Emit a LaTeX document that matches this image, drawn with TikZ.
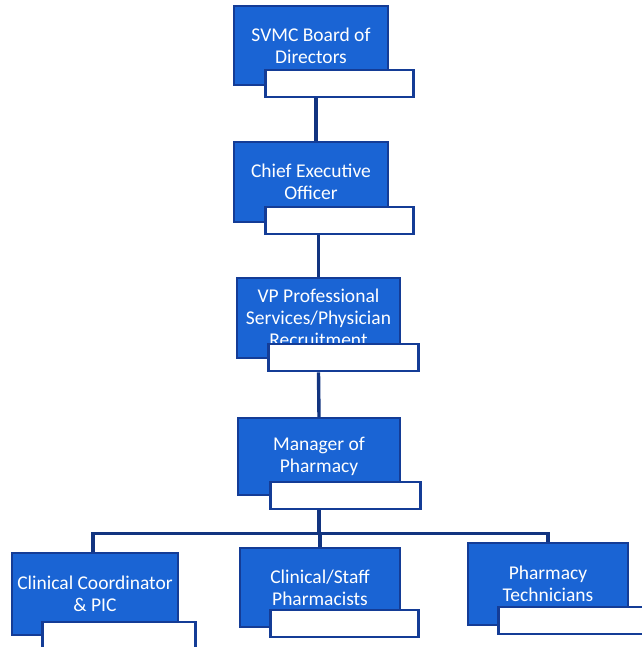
\documentclass[tikz,border=0pt]{standalone}
\usepackage{fontspec}
\setmainfont{Carlito}
\usepackage{tikz}
\usetikzlibrary{positioning, calc}
\definecolor{cBoxBlue}{RGB}{26,100,212}
\definecolor{cEdgeBlue}{RGB}{20,60,150}
\definecolor{cLineBlue}{RGB}{18,52,128}
\tikzset{
	post/.style ={rectangle, draw=cEdgeBlue, line width=1.6pt, fill=cBoxBlue, text=white, minimum width=160pt, minimum height=80pt, align=center, inner sep=1pt},
	slot/.style ={rectangle, draw=cEdgeBlue, line width=2.6pt, fill=white, minimum width=148pt, minimum height=27pt, anchor=north west, inner sep=0pt},
	link/.style ={draw=cLineBlue, line width=3.4pt},
}

\begin{document}
\begin{tikzpicture}[x=1pt, y=1pt, font={\fontsize{19.5}{22}\selectfont}]
	\useasboundingbox (0,0) rectangle (641,647);
	\node[post, minimum width=154pt, minimum height=79pt] (board) at (311,601.5) {SVMC Board of\\ Directors};
	\node[post, minimum width=154pt] (ceo) at (311,465) {Chief Executive\\ Officer};
	\node[post, minimum width=163pt] (vp) at (318.5,329) {VP Professional\\ Services/Physician\\ Recruitment};
	\node[post, minimum width=162pt, minimum height=77pt] (mgr) at (319,190.5) {Manager of\\ Pharmacy};
	\node[post, minimum width=166pt, minimum height=82pt] (coord) at (95,53) {Clinical Coordinator\\ \& PIC};
	\node[post, minimum height=79pt] (staff) at (320,59.5) {Clinical/Staff\\ Pharmacists};
	\node[post, minimum height=82pt] (tech) at (548,63) {Pharmacy\\ Technicians};
	% white name slots under each box
	\node[slot] (boards) at ([shift={(31,17)}]board.south west) {};
	\node[slot] (ceos) at ([shift={(31,17)}]ceo.south west) {};
	\node[slot, minimum width=150pt] (vps) at ([shift={(31,16)}]vp.south west) {};
	\node[slot, minimum width=150pt] (mgrs) at ([shift={(32,15)}]mgr.south west) {};
	\node[slot, minimum width=153pt] (coords) at ([shift={(30,15)}]coord.south west) {};
	\node[slot] (staffs) at ([shift={(30,19)}]staff.south west) {};
	\node[slot, minimum width=150pt] (techs) at ([shift={(30,20)}]tech.south west) {};
	% reporting lines
	\draw[link] ([xshift=5pt]ceo.north |- boards.south) -- ([xshift=5pt]ceo.north);
	\draw[link] (vp.north |- ceos.south) -- (vp.north);
	\draw[link] (vps.south -| vp.south) -- (mgr.north);
	\draw[link] (mgrs.south -| mgr.south) -- ++(0,-23) coordinate (bus);
	\draw[link] ([xshift=-2pt]coord.north) |- (bus) -| (tech.north);
	\draw[link] (staff.north) -- (staff.north |- bus);
\end{tikzpicture}
\end{document}
